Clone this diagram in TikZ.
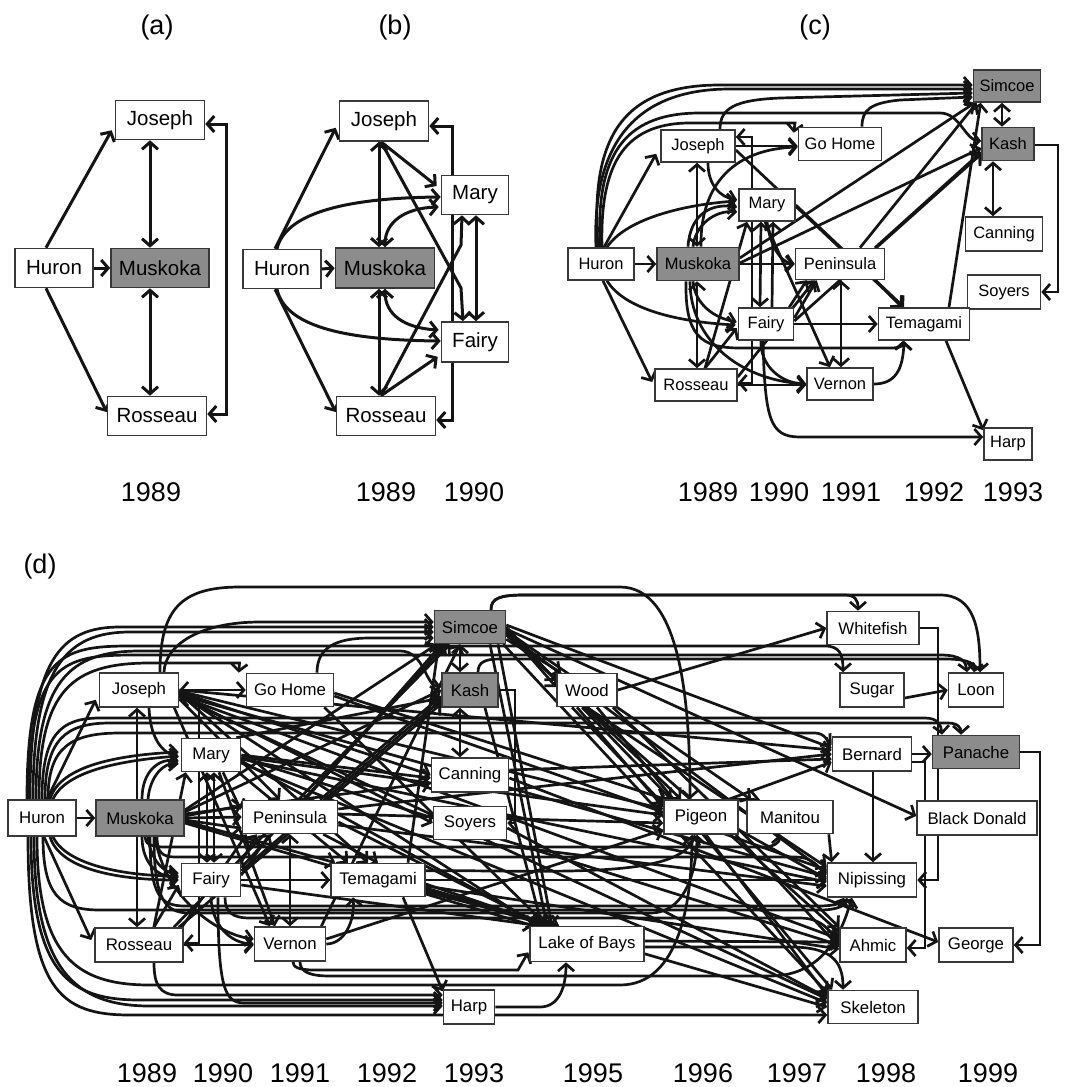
\documentclass[tikz,border=0pt]{standalone}
\usepackage{fontspec}
\setmainfont{Liberation Sans}
\usetikzlibrary{arrows.meta,calc}
\pgfdeclarelayer{bg}
\pgfsetlayers{bg,main}
\newcommand\fsA{\fontsize{20.5}{24}\selectfont}
\newcommand\fsC{\fontsize{16.5}{19}\selectfont}
\newcommand\fsD{\fontsize{16.8}{19}\selectfont}
\newcommand\fsY{\fontsize{27}{30}\selectfont}
\tikzset{
  lk/.style={line width=3pt, draw=black!92},
  ar/.style={lk, -{Straight Barb[length=7pt,width=16pt]}},
  dar/.style={lk, {Straight Barb[length=7pt,width=16pt]}-{Straight Barb[length=7pt,width=16pt]}},
  bx/.style={draw=black!78, line width=1.6pt, fill=white, inner sep=0pt},
  gx/.style={bx, fill=black!45},
  lab/.style={font=\fsY, inner sep=0pt},
  dpanel/.style={lk/.style={line width=2.7pt, draw=black!92}},
}
\begin{document}
\begin{tikzpicture}[x=1pt,y=-1pt]
\useasboundingbox (0,0) rectangle (1066,1087);
% ---------------- labels
\node[lab] (La) at (157,28) {(a)};
\node[lab] (Lb) at (395,28) {(b)};
\node[lab] (Lc) at (815,28) {(c)};
\node[lab] (Ld) at (40,567) {(d)};
\node[lab] (ya1) at (151,492) {1989};
\node[lab] (yb1) at (386,492) {1989};
\node[lab] (yb2) at (474,492) {1990};
\node[lab] (yc1) at (708,492) {1989};
\node[lab] (yc2) at (779,492) {1990};
\node[lab] (yc3) at (851,492) {1991};
\node[lab] (yc4) at (934,492) {1992};
\node[lab] (yc5) at (1013,492) {1993};
\node[lab] (yd1) at (147,1073) {1989};
\node[lab] (yd2) at (223,1073) {1990};
\node[lab] (yd3) at (300,1073) {1991};
\node[lab] (yd4) at (387,1073) {1992};
\node[lab] (yd5) at (474,1073) {1993};
\node[lab] (yd6) at (593,1073) {1995};
\node[lab] (yd7) at (703,1073) {1996};
\node[lab] (yd8) at (797,1073) {1997};
\node[lab] (yd9) at (886,1073) {1998};
\node[lab] (yd10) at (988,1073) {1999};
% ---------------- (a)
\node[bx,minimum width=89pt,minimum height=39pt,font=\fsA] (aJ) at (160,120) {Joseph};
\node[bx,minimum width=78pt,minimum height=39pt,font=\fsA] (aH) at (54,268) {Huron};
\node[gx,minimum width=98pt,minimum height=39pt,font=\fsA] (aM) at (160,268) {Muskoka};
\node[bx,minimum width=99pt,minimum height=39pt,font=\fsA] (aR) at (157,416) {Rosseau};
% ---------------- (b)
\node[bx,minimum width=89pt,minimum height=40pt,font=\fsA] (bJ) at (384,121) {Joseph};
\node[bx,minimum width=67pt,minimum height=39pt,font=\fsA] (bMa) at (475,195) {Mary};
\node[bx,minimum width=78pt,minimum height=39pt,font=\fsA] (bH) at (282,269) {Huron};
\node[gx,minimum width=99pt,minimum height=40pt,font=\fsA] (bMu) at (385,268) {Muskoka};
\node[bx,minimum width=67pt,minimum height=40pt,font=\fsA] (bF) at (475,342) {Fairy};
\node[bx,minimum width=99pt,minimum height=39pt,font=\fsA] (bR) at (386,416) {Rosseau};
% ---------------- (c)
\node[gx,minimum width=67pt,minimum height=32pt,font=\fsC] (cSi) at (1007,86) {Simcoe};
\node[gx,minimum width=52pt,minimum height=33pt,font=\fsC] (cKa) at (1008,144) {Kash};
\node[bx,minimum width=83pt,minimum height=33pt,font=\fsC] (cGH) at (840,144) {Go Home};
\node[bx,minimum width=74pt,minimum height=32pt,font=\fsC] (cJ) at (698,146) {Joseph};
\node[bx,minimum width=56pt,minimum height=32pt,font=\fsC] (cMa) at (767,205) {Mary};
\node[bx,minimum width=77pt,minimum height=34pt,font=\fsC] (cCa) at (1004,234) {Canning};
\node[bx,minimum width=66pt,minimum height=32pt,font=\fsC] (cH) at (601,264) {Huron};
\node[gx,minimum width=82pt,minimum height=33pt,font=\fsC] (cMu) at (698,264) {Muskoka};
\node[bx,minimum width=89pt,minimum height=31pt,font=\fsC] (cPe) at (840,264) {Peninsula};
\node[bx,minimum width=73pt,minimum height=34pt,font=\fsC] (cSo) at (1004,292) {Soyers};
\node[bx,minimum width=55pt,minimum height=32pt,font=\fsC] (cF) at (766,324) {Fairy};
\node[bx,minimum width=91pt,minimum height=32pt,font=\fsC] (cTe) at (924,324) {Temagami};
\node[bx,minimum width=82pt,minimum height=32pt,font=\fsC] (cR) at (696,385) {Rosseau};
\node[bx,minimum width=66pt,minimum height=32pt,font=\fsC] (cVe) at (840,384) {Vernon};
\node[bx,minimum width=48pt,minimum height=32pt,font=\fsC] (cHa) at (1008,444) {Harp};
% ---------------- (d)
\node[bx,minimum width=68pt,minimum height=36pt,font=\fsD] (dH) at (42,818) {Huron};
\node[gx,minimum width=88pt,minimum height=36pt,font=\fsD] (dMu) at (140,818) {Muskoka};
\node[bx,minimum width=79pt,minimum height=34pt,font=\fsD] (dJ) at (139,690) {Joseph};
\node[bx,minimum width=87pt,minimum height=33pt,font=\fsD] (dGH) at (290,690) {Go Home};
\node[bx,minimum width=59pt,minimum height=33pt,font=\fsD] (dMa) at (211,755) {Mary};
\node[bx,minimum width=95pt,minimum height=33pt,font=\fsD] (dPe) at (290,817) {Peninsula};
\node[bx,minimum width=59pt,minimum height=33pt,font=\fsD] (dFa) at (211,880) {Fairy};
\node[bx,minimum width=88pt,minimum height=34pt,font=\fsD] (dRo) at (139,945) {Rosseau};
\node[bx,minimum width=71pt,minimum height=34pt,font=\fsD] (dVe) at (290,944) {Vernon};
\node[bx,minimum width=94pt,minimum height=33pt,font=\fsD] (dTe) at (378,880) {Temagami};
\node[gx,minimum width=71pt,minimum height=33pt,font=\fsD] (dSi) at (470,627) {Simcoe};
\node[gx,minimum width=56pt,minimum height=34pt,font=\fsD] (dKa) at (470,690) {Kash};
\node[bx,minimum width=60pt,minimum height=33pt,font=\fsD] (dWo) at (587,690) {Wood};
\node[bx,minimum width=77pt,minimum height=34pt,font=\fsD] (dCa) at (470,775) {Canning};
\node[bx,minimum width=73pt,minimum height=33pt,font=\fsD] (dSo) at (470,823) {Soyers};
\node[bx,minimum width=74pt,minimum height=34pt,font=\fsD] (dPi) at (701,817) {Pigeon};
\node[bx,minimum width=114pt,minimum height=35pt,font=\fsD] (dLB) at (587,944) {Lake of Bays};
\node[bx,minimum width=51pt,minimum height=34pt,font=\fsD] (dHa) at (469,1007) {Harp};
\node[bx,minimum width=92pt,minimum height=33pt,font=\fsD] (dWh) at (873,628) {Whitefish};
\node[bx,minimum width=64pt,minimum height=34pt,font=\fsD] (dSu) at (872,690) {Sugar};
\node[bx,minimum width=55pt,minimum height=34pt,font=\fsD] (dLo) at (976,690) {Loon};
\node[bx,minimum width=79pt,minimum height=34pt,font=\fsD] (dBe) at (872,754) {Bernard};
\node[gx,minimum width=87pt,minimum height=33pt,font=\fsD] (dPa) at (976,752) {Panache};
\node[bx,minimum width=86pt,minimum height=33pt,font=\fsD] (dMn) at (790,817) {Manitou};
\node[bx,minimum width=120pt,minimum height=34pt,font=\fsD] (dBD) at (977,818) {Black Donald};
\node[bx,minimum width=89pt,minimum height=34pt,font=\fsD] (dNi) at (872,880) {Nipissing};
\node[bx,minimum width=66pt,minimum height=34pt,font=\fsD] (dAh) at (873,945) {Ahmic};
\node[bx,minimum width=74pt,minimum height=34pt,font=\fsD] (dGe) at (976,945) {George};
\node[bx,minimum width=90pt,minimum height=33pt,font=\fsD] (dSk) at (873,1007) {Skeleton};

\begin{pgfonlayer}{bg}
% ======== (a)
\draw[ar] ($(aH.north)+(-8,0)$) -- ($(aJ.south west)+(-3,-10)$);
\draw[ar] (aH.east) -- (aM.west);
\draw[ar] ($(aH.south)+(-8,0)$) -- ($(aR.west)+(0,-4)$);
\draw[dar] ($(aJ.south)+(-10,0)$) -- ($(aM.north)+(-10,0)$);
\draw[dar] ($(aM.south)+(-10,0)$) -- ($(aR.north)+(-7,0)$);
\draw[dar] ($(aJ.east)+(0,4)$) -| (226,300) |- ($(aR.east)+(0,-2)$);
% ======== (b)
\draw[ar] ($(bH.north)+(-7,0)$) -- ($(bJ.south west)+(-3,-14)$);
\draw[ar] (bH.east) -- (bMu.west);
\draw[ar] ($(bH.south)+(-7,0)$) -- ($(bR.west)+(0,-4)$);
\draw[ar] ($(bH.north)+(-5,0)$) .. controls (285,215) and (340,198) .. ($(bMa.west)+(0,2)$);
\draw[ar] ($(bH.south)+(-5,0)$) .. controls (285,325) and (340,340) .. ($(bF.west)+(0,-1)$);
\draw[dar] ($(bJ.south)+(-5,0)$) -- ($(bMu.north)+(-6,0)$);
\draw[dar] ($(bMu.south)+(-6,0)$) -- ($(bR.north)+(-7,0)$);
\draw[ar] ($(bJ.south)+(-3,0)$) -- ($(bMa.west)+(-4,-9)$);
\draw[ar] ($(bJ.south)+(-3,0)$) -- (461,288) -- ($(bF.north)+(-12,0)$);
\draw[dar] (bMu.north) .. controls (385,222) and (405,208) .. ($(bMa.west)+(-2,12)$);
\draw[dar] (bMu.south) .. controls (385,315) and (405,328) .. ($(bF.west)+(-2,-12)$);
\draw[ar] ($(bR.north)+(-5,0)$) -- (461,245) -- ($(bMa.south)+(-13,0)$);
\draw[ar] ($(bR.north)+(-5,0)$) -- ($(bF.south west)+(-3,-6)$);
\draw[dar] ($(bMa.south)+(1,0)$) -- ($(bF.north)+(1,0)$);
\draw[dar] ($(bJ.east)+(0,5)$) -| (452,300) |- ($(bR.east)+(0,4)$);
\end{pgfonlayer}
\begin{scope}[dpanel]
\begin{pgfonlayer}{bg}
% ======== (c)
\draw[ar] ($(cH.north)+(3,0)$) -- ($(cJ.south west)+(-4,-9)$);
\draw[ar] (cH.east) -- (cMu.west);
\draw[ar] ($(cH.south)+(2,0)$) -- ($(cR.west)+(-2,-3)$);
\draw[ar] ($(cH.north)+(6,0)$) .. controls (625,220) and (680,205) .. ($(cMa.west)+(-2,-4)$);
\draw[ar] ($(cH.south)+(6,0)$) .. controls (625,310) and (680,322) .. ($(cF.west)+(-2,1)$);
\draw[ar] ($(cH.north)+(-3,0)$) .. controls (590,140) and (620,85) .. (720,85) -- ($(cSi.west)+(0,-1)$);
\draw[ar] ($(cH.north)+(-5,0)$) .. controls (592,150) and (630,89) .. (730,89) -- ($(cSi.west)+(0,3)$);
\draw[ar] ($(cH.north)+(-1,0)$) .. controls (596,160) and (620,113) .. (700,113) -- (940,113) .. controls (960,113) and (965,140) .. ($(cKa.west)+(0,-3)$);
\draw[ar] ($(cH.north)+(1,0)$) .. controls (600,170) and (620,123) .. (690,123) -- (795,123) -- ($(cGH.north west)+(-4,6)$);
\draw[ar] ($(cJ.north)+(22,0)$) .. controls (720,108) and (735,100) .. (780,98) -- ($(cSi.west)+(0,7)$);
\draw[ar] ($(cGH.north)+(22,0)$) .. controls (862,110) and (870,103) .. (900,100) -- ($(cSi.west)+(0,11)$);
\draw[dar] ($(cJ.east)+(0,-9)$) -| (752,300) |- ($(cR.east)+(0,-2)$);
\draw[ar] (cJ.east) -- (cJ.east -| cGH.west);
\draw[ar] ($(cJ.south)+(10,0)$) .. controls (708,185) and (720,197) .. ($(cMa.west)+(-1,-5)$);
\draw[dar] ($(cJ.south)+(-1,0)$) -- ($(cMu.north)+(-1,0)$);
\draw[dar] ($(cMu.south)+(-1,0)$) -- ($(cR.north)+(1,0)$);
\draw[ar] ($(cJ.east)+(0,4)$) -- ($(cTe.north)+(-21,0)$);
\draw[ar] ($(cMu.north)+(3,0)$) .. controls (700,200) and (720,150) .. ($(cGH.west)+(0,3)$);
\draw[ar] ($(cMu.east)+(0,-6)$) -- ($(cSi.south west)+(2,0)$);
\draw[ar] ($(cMu.east)+(0,-1)$) -- ($(cKa.west)+(0,4)$);
\draw[ar] (cMu.east) -- (cMu.east -| cPe.west);
\draw[ar] ($(cMu.north)+(-10,0)$) .. controls (690,215) and (710,203) .. ($(cMa.west)+(-1,2)$);
\draw[ar] ($(cMu.north)+(-5,0)$) .. controls (695,225) and (715,210) .. ($(cMa.west)+(-1,7)$);
\draw[ar] ($(cMu.south)+(-5,0)$) .. controls (695,305) and (715,318) .. ($(cF.west)+(-1,-2)$);
\draw[ar] ($(cMu.south)+(-8,0)$) .. controls (690,340) and (740,380) .. (cVe.west);
\draw[ar] ($(cMu.south)+(-12,0)$) .. controls (685,335) and (700,348) .. (740,348) -- (890,348) .. controls (900,348) and (903,346) .. ($(cTe.south)+(-21,0)$);
\draw[ar] (cMa.south) .. controls (770,245) and (780,262) .. (cPe.west);
\draw[ar] ($(cMa.south)+(-2,0)$) -- ($(cVe.north)+(-10,0)$);
\draw[ar] (cMa.east) -- ($(cTe.north)+(-20,0)$);
\draw[dar] ($(cF.north)+(-6,0)$) -- ($(cMa.south)+(-6,0)$);
\draw[ar] ($(cF.north)+(6,0)$) -- ($(cMa.south)+(6,0)$);
\draw[ar] ($(cF.north east)+(-5,0)$) -- ($(cPe.south west)+(12,0)$);
\draw[ar] ($(cF.east)+(0,-6)$) -- ($(cPe.south west)+(22,0)$);
\draw[ar] (cF.east) -- (cF.east -| cTe.west);
\draw[ar] ($(cPe.north)+(20,0)$) -- ($(cSi.south west)+(4,0)$);
\draw[ar] ($(cPe.north)+(35,0)$) -- ($(cKa.west)+(0,8)$);
\draw[ar] ($(cF.east)+(0,-3)$) -- ($(cKa.west)+(0,10)$);
\draw[ar] ($(cPe.south east)+(-10,0)$) -- ($(cTe.north)+(-22,0)$);
\draw[dar] ($(cPe.south)+(1,0)$) -- ($(cVe.north)+(1,0)$);
\draw[ar] ($(cF.south)+(-5,0)$) .. controls (760,365) and (780,383) .. (cVe.west);
\draw[ar] ($(cF.south)+(-3,0)$) .. controls (765,420) and (770,437) .. (800,437) -- ($(cHa.west)+(0,-7)$);
\draw[ar] (cVe.east) .. controls (895,384) and (903,370) .. ($(cTe.south)+(-20,0)$);
\draw[ar] ($(cTe.north)+(25,0)$) -- ($(cSi.south west)+(8,0)$);
\draw[ar] ($(cTe.south)+(22,0)$) -- ($(cHa.north west)+(0,3)$);
\draw[dar] ($(cSi.south)+(-5,0)$) -- ($(cKa.north)+(-6,0)$);
\draw[dar] ($(cKa.south)+(-15,0)$) -- ($(cCa.north)+(-11,0)$);
\draw[ar] ($(cKa.east)+(0,1)$) -| (1058,250) |- (cSo.east);
\draw[ar] ($(cR.north)+(9,0)$) -- ($(cMa.south)+(-20,0)$);
\draw[ar] ($(cR.north)+(9,0)$) -- ($(cF.west)+(-1,4)$);
\draw[ar] (cR.east) -- (cR.east -| cVe.west);
\draw[ar] ($(cR.east)+(0,-8)$) -- ($(cPe.south west)+(20,0)$);
% ======== (d) basic
\draw[ar] ($(dH.north)+(5,0)$) -- ($(dJ.south west)+(-3,-8)$);
\draw[ar] (dH.east) -- (dMu.west);
\draw[ar] ($(dH.south)+(2,0)$) -- ($(dRo.west)+(-3,-5)$);
\draw[ar] ($(dH.north)+(8,0)$) .. controls (60,765) and (120,755) .. ($(dMa.west)+(-2,-3)$);
\draw[ar] ($(dH.north)+(11,0)$) .. controls (66,770) and (125,760) .. ($(dMa.west)+(-2,1)$);
\draw[ar] ($(dH.south)+(8,0)$) .. controls (60,870) and (120,880) .. ($(dFa.west)+(-2,0)$);
\draw[ar] ($(dH.south)+(11,0)$) .. controls (66,865) and (125,876) .. ($(dFa.west)+(-2,-4)$);
\draw[dar] ($(dJ.south)+(-2,0)$) -- ($(dRo.north)+(-2,0)$);
\draw[dar] (dJ.east) -- (dJ.east -| dGH.west);
\draw[ar] ($(dJ.south)+(10,0)$) .. controls (150,735) and (160,752) .. ($(dMa.west)+(-2,2)$);
\draw[ar] ($(dMu.north)+(2,0)$) .. controls (142,770) and (160,758) .. ($(dMa.west)+(-2,6)$);
\draw[ar] ($(dMu.north)+(8,0)$) .. controls (150,775) and (165,762) .. ($(dMa.west)+(-2,9)$);
\draw[ar] ($(dMu.south)+(2,0)$) .. controls (142,865) and (160,878) .. ($(dFa.west)+(-2,-3)$);
\draw[ar] ($(dMu.south)+(8,0)$) .. controls (150,860) and (165,874) .. ($(dFa.west)+(-2,-7)$);
\draw[ar] (dMu.east) -- (dPe.west);
\draw[ar] ($(dMu.east)+(0,-2)$) -- ($(dPe.north west)+(0,6)$);
\draw[ar] ($(dMu.east)+(0,2)$) -- ($(dPe.south west)+(0,-6)$);
\draw[dar] ($(dJ.east)+(0,8)$) -| (199,800) |- ($(dRo.east)+(0,-2)$);
\draw[dar] ($(dMa.south)+(-4,0)$) -- ($(dFa.north)+(-4,0)$);
\draw[dar] ($(dMa.south)+(3,0)$) -- ($(dFa.north)+(3,0)$);
\draw[ar] ($(dMa.south)+(12,0)$) -- ($(dPe.north west)+(-1,10)$);
\draw[ar] ($(dMa.south)+(8,0)$) -- ($(dVe.north)+(-15,0)$);
\draw[ar] ($(dRo.north east)+(-30,0)$) -- ($(dMa.south west)+(5,0)$);
\draw[ar] ($(dFa.north east)+(-2,3)$) -- ($(dPe.south west)+(15,0)$);
\draw[ar] ($(dFa.east)+(0,-5)$) -- ($(dPe.south west)+(28,0)$);
\draw[ar] (dFa.east) -- (dFa.east -| dTe.west);
\draw[ar] (dFa.south) .. controls (212,925) and (230,943) .. (dVe.west);
\draw[ar] ($(dMu.south)+(15,0)$) .. controls (165,900) and (220,935) .. ($(dVe.west)+(0,-5)$);
\draw[ar] (dRo.east) -- (dRo.east -| dVe.west);
\draw[ar] ($(dRo.north)+(15,0)$) -- ($(dFa.west)+(-2,5)$);
\draw[ar] ($(dRo.north east)+(-2,0)$) -- ($(dPe.south west)+(5,0)$);
\draw[dar] (dPe.south) -- (dVe.north);
\draw[ar] (dVe.east) .. controls (345,944) and (355,920) .. ($(dTe.south)+(-25,0)$);
\draw[ar] ($(dTe.south)+(25,0)$) -- ($(dHa.north west)+(0,2)$);
\draw[ar] ($(dTe.north)+(30,0)$) -- ($(dSi.south west)+(5,0)$);
% ======== (d) top routes
\draw[ar] ($(dJ.north)+(21,0)$) .. controls (160,610) and (180,587) .. (240,587) -- (620,587) .. controls (680,587) and (690,700) .. ($(dPi.north)+(-11,0)$);
\draw[ar] ($(dSi.north)+(21,0)$) .. controls (491,598) and (500,595) .. (525,595) -- (845,595) .. controls (855,595) and (858,600) .. ($(dWh.north)+(-15,0)$);
\draw[ar] ($(dSi.north)+(21,0)$) .. controls (491,598) and (500,595) .. (525,595) -- (940,595) .. controls (975,595) and (980,630) .. ($(dLo.north)+(4,0)$);
\draw[ar] ($(dH.north)+(-12,0)$) .. controls (30,660) and (60,627) .. (120,627) -- (dSi.west);
\draw[ar] ($(dH.north)+(-9,0)$) .. controls (33,668) and (66,632) .. (130,632) -- ($(dSi.west)+(0,5)$);
\draw[ar] ($(dJ.north)+(25,0)$) .. controls (165,645) and (200,622) .. (260,622) -- ($(dSi.west)+(0,-5)$);
\draw[ar] ($(dGH.north)+(27,0)$) .. controls (317,648) and (335,638) .. (370,638) -- ($(dSi.west)+(0,11)$);
\draw[ar] ($(dH.north)+(-6,0)$) .. controls (36,680) and (70,651) .. (140,651) -- (400,651) .. controls (425,651) and (425,686) .. ($(dKa.west)+(0,-3)$);
\draw[ar] ($(dH.north)+(-3,0)$) .. controls (39,690) and (72,663) .. (150,663) -- (239.5,663) -- ($(dGH.north west)+(-7,0)$);
\draw[ar] ($(dH.north)+(-15,0)$) .. controls (27,655) and (60,646) .. (130,646) -- (825,646) .. controls (840,646) and (843,655) .. ($(dSu.north)+(-29,0)$);
\draw[ar] ($(dH.north)+(-13,0)$) .. controls (29,662) and (63,655) .. (135,655) -- (940,655) .. controls (962,655) and (966,662) .. ($(dLo.north)+(-9,0)$);
\draw[ar] ($(dKa.north)+(8,0)$) .. controls (478,662) and (485,659) .. (500,659) -- (945,659) .. controls (972,659) and (975,665) .. ($(dLo.north)+(-2,0)$);
\draw[ar] (dH.north) .. controls (42,735) and (60,718) .. (100,718) -- (925,718) .. controls (938,718) and (941,725) .. ($(dPa.north)+(-34,0)$);
\draw[ar] ($(dH.north)+(3,0)$) .. controls (45,740) and (65,723) .. (110,723) -- (948,723) .. controls (958,723) and (961,728) .. ($(dPa.north)+(-15,0)$);
\draw[ar] ($(dH.north)+(6,0)$) .. controls (48,748) and (70,733) .. (120,733) -- (815,733) .. controls (825,733) and (828,742) .. ($(dBe.west)+(0,-9)$);
% ======== (d) bottom routes
\draw[ar] ($(dH.south)+(-14,0)$) .. controls (28,990) and (60,1015) .. (130,1015) -- ($(dSk.west)+(0,8)$);
\draw[ar] ($(dH.south)+(-11,0)$) .. controls (31,975) and (70,1000) .. (140,1000) -- ($(dHa.west)+(0,-7)$);
\draw[ar] ($(dH.south)+(-8,0)$) .. controls (34,970) and (75,1006) .. (150,1006) -- ($(dHa.west)+(0,-1)$);
\draw[ar] ($(dH.south)+(-5,0)$) .. controls (37,955) and (75,985) .. (150,985) -- (620,985) .. controls (680,985) and (692,900) .. ($(dPi.south)+(-9,0)$);
\draw[ar] ($(dH.south)+(1,0)$) .. controls (43,895) and (60,910) .. (100,910) -- (820,910) .. controls (838,910) and (846,905) .. ($(dNi.south)+(-25,0)$);
\draw[ar] ($(dMu.south)+(10,0)$) .. controls (150,895) and (160,906) .. (185,906) -- (818,906) .. controls (835,906) and (842,903) .. ($(dNi.south)+(-28,0)$);
\draw[ar] ($(dMu.south)+(14,0)$) .. controls (154,900) and (165,913) .. (190,913) -- (650,913) .. controls (690,913) and (697,860) .. ($(dPi.south)+(-4,0)$);
\draw[ar] ($(dMu.south)+(5,0)$) .. controls (145,843) and (150,847) .. (165,847) -- (762,847) .. controls (775,847) and (780,842) .. ($(dMn.south)+(-10,0)$);
\draw[ar] ($(dMu.south)+(17,0)$) .. controls (157,852) and (162,857) .. (175,857) -- (795,857) .. controls (815,857) and (820,870) .. ($(dNi.west)+(0,-5)$);
\draw[ar] ($(dFa.south)+(14,0)$) .. controls (225,912) and (232,918) .. (250,918) -- (800,918) .. controls (825,918) and (830,935) .. ($(dAh.west)+(0,-8)$);
\draw[ar] ($(dRo.south)+(15,0)$) .. controls (154,985) and (160,995) .. (178,995) -- ($(dHa.west)+(0,-12)$);
\draw[ar] ($(dFa.south)+(7,0)$) .. controls (218,990) and (225,1003) .. (245,1003) -- ($(dHa.west)+(0,-4)$);
\draw[ar] ($(dVe.south)+(3,0)$) .. controls (293,967) and (298,970) .. (315,970) -- (518,970) -- ($(dLB.south west)+(-1,-10)$);
\draw[ar] ($(dVe.south)+(10,0)$) .. controls (300,972) and (310,976) .. (330,976) -- (770,976) .. controls (830,976) and (845,920) .. ($(dNi.south)+(-20,0)$);
\draw[ar] (dHa.east) -- (540,1007) .. controls (560,1007) and (566,985) .. ($(dLB.south)+(-21,0)$);
\draw[ar] ($(dLB.east)+(0,3)$) -- (790,947) .. controls (830,947) and (843,960) .. ($(dSk.north)+(-30,0)$);
\draw[ar] ($(dLB.east)+(0,-3)$) -- ($(dAh.west)+(0,-3)$);
% ======== (d) right routes
\draw[ar] (dKa.east) -| (515,750) |- (dSo.east);
\draw[ar] (dPa.east) -| (1040,850) |- (dGe.east);
\draw[ar] (dWh.east) -| (938,750) |- (dNi.east);
\draw[ar] ($(dBe.east)+(0,8)$) -| (925,850) |- ($(dAh.east)+(0,3)$);
\draw[ar] (dBe.east) -- (dBe.east -| dPa.west);
\draw[ar] ($(dBe.south)+(1,0)$) -- ($(dNi.north)+(1,0)$);
\draw[ar] ($(dSu.east)+(0,8)$) -- (dLo.west);
\draw[dar] ($(dSi.south)+(-10,0)$) -- ($(dKa.north)+(-10,0)$);
\draw[dar] ($(dKa.south)+(-10,0)$) -- ($(dCa.north)+(-10,0)$);
\draw[ar] ($(dCa.east)+(0,-5)$) -- ($(dBe.west)+(0,5)$);
\draw[ar] ($(dCa.east)+(0,3)$) -- ($(dGe.west)+(0,-3)$);
% ======== (d) fans: Joseph
\draw[ar] ($(dJ.east)+(0,3)$) -- ($(dTe.north)+(-10,0)$);
\draw[ar] ($(dJ.east)+(0,2)$) -- (dCa.west);
\draw[ar] ($(dJ.east)+(0,4)$) -- ($(dLB.north west)+(8,0)$);
\draw[ar] ($(dJ.east)+(0,1)$) -- ($(dPi.west)+(0,-8)$);
\draw[ar] ($(dJ.east)+(0,5)$) -- ($(dNi.west)+(0,-3)$);
\draw[ar] ($(dJ.east)+(0,6)$) -- ($(dAh.west)+(0,-6)$);
\draw[ar] ($(dJ.east)+(0,7)$) -- ($(dSk.west)+(0,-8)$);
\draw[ar] (dJ.east) -- ($(dBe.west)+(0,-4)$);
\draw[ar] ($(dJ.east)+(0,9)$) -- ($(dPe.north)+(-10,0)$);
\draw[ar] ($(dJ.south east)+(-5,0)$) -- ($(dVe.north)+(-20,0)$);
\draw[ar] ($(dJ.east)+(0,5)$) -- (dSo.west);
% Go Home
\draw[ar] ($(dGH.east)+(0,3)$) -- ($(dPi.north west)+(2,0)$);
\draw[ar] ($(dGH.east)+(0,6)$) -- ($(dNi.west)+(0,-10)$);
\draw[ar] ($(dGH.south east)+(-10,0)$) -- ($(dLB.north)+(-40,0)$);
% Mary
\draw[ar] (dMa.east) -- ($(dCa.west)+(0,3)$);
\draw[ar] ($(dMa.east)+(0,2)$) -- ($(dPi.west)+(0,-2)$);
\draw[ar] ($(dMa.east)+(0,4)$) -- ($(dNi.west)+(0,2)$);
\draw[ar] ($(dMa.east)+(0,6)$) -- ($(dLB.north west)+(12,0)$);
\draw[ar] ($(dMa.east)+(0,8)$) -- ($(dSk.west)+(0,-4)$);
\draw[ar] ($(dMa.south east)+(-3,0)$) -- ($(dTe.north)+(-30,0)$);
\draw[ar] ($(dMa.east)+(0,3)$) -- (dAh.west);
\draw[ar] ($(dMa.north east)+(-5,0)$) -- ($(dKa.west)+(0,8)$);
% Muskoka
\draw[ar] ($(dMu.east)+(0,-8)$) -- ($(dSi.south west)+(3,0)$);
\draw[ar] ($(dMu.east)+(0,-6)$) -- (dKa.west);
\draw[ar] ($(dMu.east)+(0,3)$) -- ($(dTe.north west)+(5,0)$);
\draw[ar] ($(dMu.east)+(0,5)$) -- ($(dLB.north west)+(4,0)$);
\draw[ar] ($(dMu.east)+(0,-4)$) -- ($(dCa.west)+(0,8)$);
% Peninsula
\draw[ar] ($(dPe.north)+(15,0)$) -- ($(dSi.south west)+(8,0)$);
\draw[ar] ($(dPe.north)+(30,0)$) -- ($(dKa.west)+(0,6)$);
\draw[ar] ($(dPe.south east)+(-15,0)$) -- (dTe.north);
\draw[ar] ($(dPe.east)+(0,5)$) -- ($(dLB.north west)+(15,0)$);
\draw[ar] ($(dPe.east)+(0,-3)$) -- ($(dPi.west)+(0,6)$);
\draw[ar] ($(dPe.east)+(0,-8)$) -- (dBe.west);
\draw[ar] ($(dPe.east)+(0,8)$) -- ($(dNi.west)+(0,6)$);
% Fairy
\draw[ar] ($(dFa.north east)+(0,5)$) -- ($(dSi.south west)+(12,0)$);
\draw[ar] ($(dFa.north east)+(0,8)$) -- ($(dKa.west)+(0,10)$);
\draw[ar] ($(dFa.east)+(0,5)$) -- ($(dLB.north west)+(10,0)$);
% Rosseau / Vernon
\draw[ar] ($(dRo.north east)+(-5,0)$) -- ($(dKa.south west)+(0,-4)$);
\draw[ar] ($(dRo.north east)+(-10,0)$) -- ($(dSi.south)+(-20,0)$);
\draw[ar] ($(dVe.north east)+(-5,0)$) -- ($(dSi.south)+(-10,0)$);
\draw[ar] ($(dVe.east)+(0,-5)$) -- ($(dPi.south west)+(0,-5)$);
% Temagami
\draw[ar] ($(dTe.east)+(0,4)$) -- ($(dLB.north west)+(20,0)$);
\draw[ar] ($(dTe.east)+(0,8)$) -- ($(dLB.north west)+(25,0)$);
\draw[ar] ($(dTe.east)+(0,12)$) -- ($(dLB.north west)+(30,0)$);
\draw[ar] (dTe.east) -- (dTe.east -| dNi.west);
\draw[ar] ($(dTe.east)+(0,10)$) -- (dSk.west);
\draw[ar] ($(dTe.east)+(0,6)$) -- ($(dAh.west)+(0,4)$);
\draw[ar] ($(dTe.north east)+(0,8)$) .. controls (550,870) and (680,880) .. ($(dPi.south)+(-6,0)$);
% Simcoe
\draw[ar] (dSi.east) -- ($(dWo.north west)+(0,8)$);
\draw[ar] ($(dSi.east)+(0,3)$) -- ($(dWo.west)+(0,-3)$);
\draw[ar] ($(dSi.south east)+(0,-5)$) -- ($(dWo.north west)+(5,0)$);
\draw[ar] ($(dSi.east)+(0,5)$) -- ($(dPi.north)+(-20,0)$);
\draw[ar] ($(dSi.east)+(0,-2)$) -- ($(dBe.west)+(0,-6)$);
\draw[ar] ($(dSi.east)+(0,2)$) -- ($(dBD.west)+(0,-2)$);
\draw[ar] ($(dSi.east)+(0,6)$) -- ($(dNi.west)+(0,-7)$);
\draw[ar] ($(dSi.east)+(0,8)$) -- ($(dAh.north west)+(0,5)$);
\draw[ar] ($(dSi.south east)+(-3,0)$) -- ($(dSk.north west)+(0,3)$);
\draw[ar] ($(dSi.south)+(20,0)$) -- ($(dLB.north)+(-40,0)$);
\draw[ar] ($(dSi.south)+(28,0)$) -- ($(dLB.north)+(-35,0)$);
\draw[ar] ($(dSi.east)+(0,4)$) -- ($(dMn.north west)+(5,0)$);
% Kash
\draw[ar] ($(dKa.south)+(15,0)$) -- ($(dLB.north)+(-45,0)$);
% Wood
\draw[ar] ($(dWo.south)+(-15,0)$) -- ($(dPi.north west)+(0,5)$);
\draw[ar] ($(dWo.south)+(-10,0)$) -- ($(dPi.west)+(0,-10)$);
\draw[ar] ($(dWo.south)+(-5,0)$) -- ($(dPi.north)+(-30,0)$);
\draw[ar] (dWo.south) -- ($(dNi.north west)+(0,5)$);
\draw[ar] ($(dWo.south)+(10,0)$) -- ($(dSk.north west)+(5,0)$);
\draw[ar] (dWo.east) -- (dWh.west);
\draw[ar] ($(dWo.south east)+(-5,0)$) -- (dAh.north west);
% Soyers, Pigeon, Manitou
\draw[ar] ($(dSo.east)+(0,5)$) -- ($(dSk.north west)+(0,8)$);
\draw[ar] ($(dPi.north east)+(-5,0)$) -- ($(dMn.north)+(-30,0)$);
\draw[ar] ($(dPi.south east)+(0,-5)$) -- ($(dNi.west)+(0,-1)$);
\draw[ar] ($(dPi.south)+(5,0)$) -- ($(dSk.north west)+(0,6)$);
\draw[ar] ($(dPi.south east)+(-3,0)$) -- ($(dAh.west)+(0,2)$);
\draw[ar] ($(dPi.north east)+(-10,0)$) -- ($(dBe.west)+(0,8)$);
\draw[ar] ($(dMn.south east)+(-5,0)$) -- ($(dNi.north west)+(5,0)$);
\end{pgfonlayer}
\end{scope}
\end{tikzpicture}
\end{document}
